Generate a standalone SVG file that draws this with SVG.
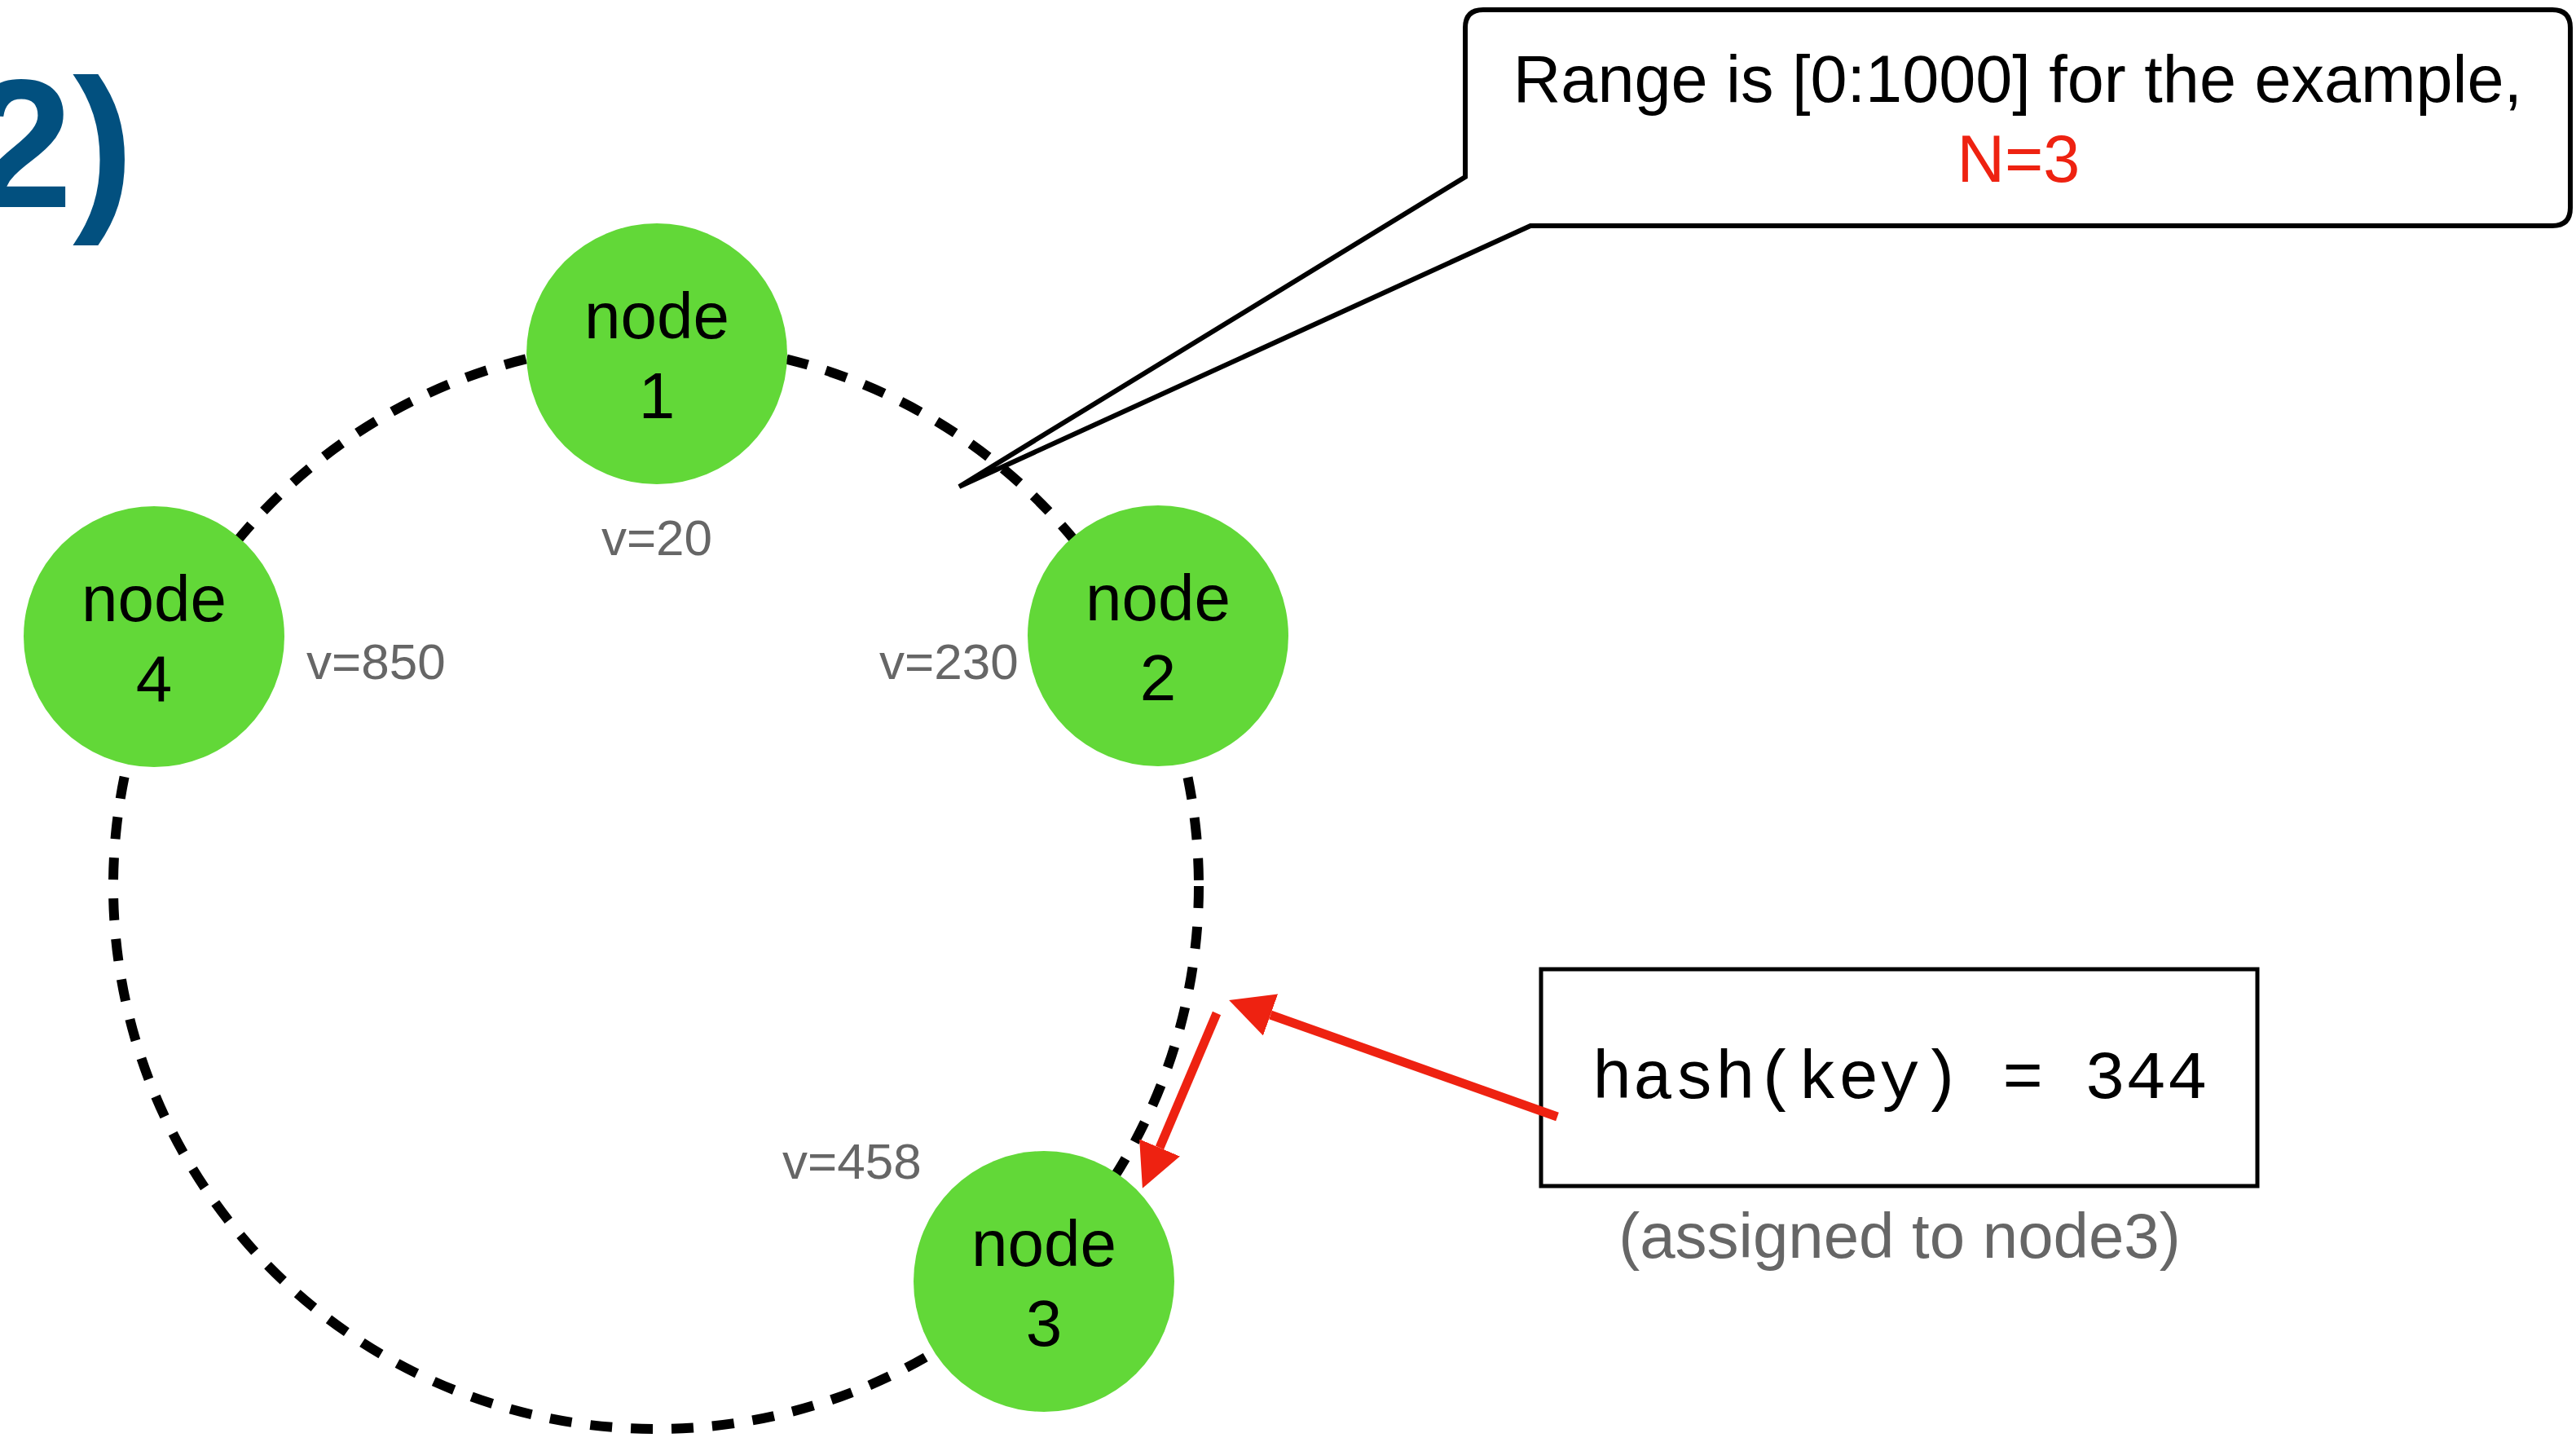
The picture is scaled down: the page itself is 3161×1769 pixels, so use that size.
<svg xmlns="http://www.w3.org/2000/svg" width="3161" height="1769" viewBox="0 0 3161 1769">
<defs>
<style>
.node circle{fill:#62d838;stroke:none}
.nt{font-family:"Liberation Sans",Arial,sans-serif;font-size:80px;fill:#000;text-anchor:middle}
.v{font-family:"Liberation Sans",Arial,sans-serif;font-size:62px;fill:#666}
.ring{fill:none;stroke:#000;stroke-width:12;stroke-dasharray:27 23}
.red{fill:none;stroke:#ee2211;stroke-width:11}
</style>
<marker id="ah" viewBox="0 0 54 54" refX="0" refY="27" markerWidth="54" markerHeight="54" markerUnits="userSpaceOnUse" orient="auto">
<path d="M0,0 L54,27 L0,54 Z" fill="#ee2211"/>
</marker>
</defs>
<rect width="3161" height="1769" fill="#fff"/>
<text x="-36" y="254" font-family="Liberation Sans,Arial,sans-serif" font-weight="bold" font-size="225" fill="#02507f">2)</text>
<g id="ring">
<circle class="ring" cx="805" cy="1087" r="666"/>
</g>
<g id="callout">
<path d="M1820,12 H3132 Q3154,12 3154,34 V255 Q3154,277 3132,277 H1878 L1177,597 L1798,217 V34 Q1798,12 1820,12 Z" fill="#fff" stroke="#000" stroke-width="6" stroke-linejoin="miter"/>
<text x="2476" y="125" font-family="Liberation Sans,Arial,sans-serif" font-size="81" text-anchor="middle" fill="#000">Range is [0:1000] for the example,</text>
<text x="2477" y="223" font-family="Liberation Sans,Arial,sans-serif" font-size="81" text-anchor="middle" fill="#ee2211">N=3</text>
</g>
<g id="node1" class="node">
<circle cx="806" cy="434" r="160"/>
<text class="nt" x="806" y="415">node</text>
<text class="nt" x="806" y="513">1</text>
</g>
<g id="node2" class="node">
<circle cx="1421" cy="780" r="160"/>
<text class="nt" x="1421" y="761">node</text>
<text class="nt" x="1421" y="859">2</text>
</g>
<g id="node3" class="node">
<circle cx="1281" cy="1572" r="160"/>
<text class="nt" x="1281" y="1553">node</text>
<text class="nt" x="1281" y="1651">3</text>
</g>
<g id="node4" class="node">
<circle cx="189" cy="781" r="160"/>
<text class="nt" x="189" y="762">node</text>
<text class="nt" x="189" y="860">4</text>
</g>
<g id="labels">
<text class="v" x="806" y="681" text-anchor="middle">v=20</text>
<text class="v" x="376" y="833">v=850</text>
<text class="v" x="1079" y="833">v=230</text>
<text class="v" x="960" y="1446">v=458</text>
</g>
<g id="hashbox">
<rect x="1891" y="1189" width="879" height="266" fill="#fff" stroke="#000" stroke-width="5"/>
<text x="2331" y="1347" font-family="Liberation Mono,Courier New,monospace" font-size="84" text-anchor="middle" fill="#000">hash(key) = 344</text>
<text x="2331" y="1543" font-family="Liberation Sans,Arial,sans-serif" font-size="78" text-anchor="middle" fill="#666">(assigned to node3)</text>
</g>
<g id="connectors">
<line class="red" x1="1493" y1="1243" x2="1423" y2="1408" marker-end="url(#ah)"/>
<line class="red" x1="1911" y1="1370" x2="1559" y2="1245" marker-end="url(#ah)"/>
</g>
</svg>
